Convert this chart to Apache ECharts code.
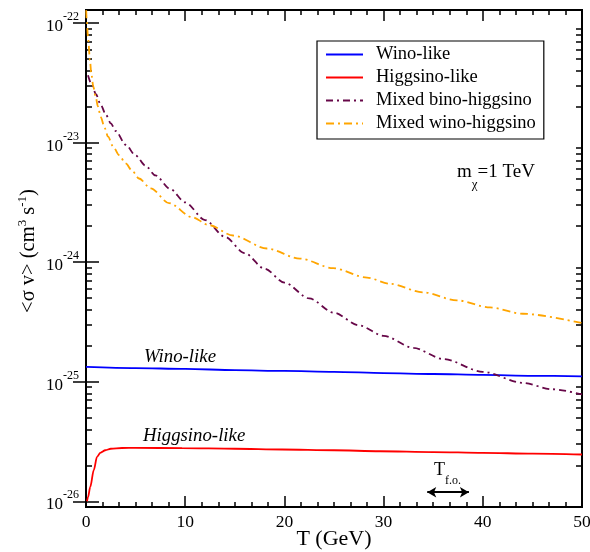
<!DOCTYPE html>
<html>
<head>
<meta charset="utf-8">
<script src="https://cdn.jsdelivr.net/npm/echarts@6/dist/echarts.min.js"></script>
<style>
html, body { margin: 0; padding: 0; background: #fff; }
#chart { width: 590px; height: 552px; }
</style>
</head>
<body>
<div id="chart"></div>
<script>
// <sigma v> in cm^3 s^-1 versus T in GeV
const winoT = [0, 5, 10, 15, 20, 25, 30, 35, 40, 45, 50];
const winoSv = [1.33e-25, 1.30e-25, 1.28e-25, 1.25e-25, 1.23e-25, 1.21e-25, 1.18e-25, 1.16e-25, 1.14e-25, 1.12e-25, 1.11e-25];

const higgsinoT = [0.1, 0.2, 0.43, 0.78, 1.11, 1.44, 1.95, 2.5, 3.63, 5, 9.68, 15, 19.76, 25, 29.64, 35, 40, 45, 50];
const higgsinoSv = [1.0e-26, 1.08e-26, 1.32e-26, 1.82e-26, 2.35e-26, 2.54e-26, 2.67e-26, 2.75e-26, 2.79e-26, 2.80e-26, 2.78e-26, 2.75e-26, 2.71e-26, 2.67e-26, 2.62e-26, 2.58e-26, 2.54e-26, 2.50e-26, 2.46e-26];

const binoHiggsinoT = [0.2, 0.6, 1, 1.5, 2, 2.5, 3, 4, 5, 6, 7, 8.5, 10, 12, 14, 16, 18, 20, 22.5, 25, 27.5, 30, 33, 36, 40, 44, 47, 50];
const binoHiggsinoSv = [3.65e-23, 3.03e-23, 2.54e-23, 2.06e-23, 1.71e-23, 1.45e-23, 1.25e-23, 9.59e-24, 7.80e-24, 6.41e-24, 5.31e-24, 4.08e-24, 3.16e-24, 2.25e-24, 1.63e-24, 1.19e-24, 8.81e-25, 6.75e-25, 4.97e-25, 3.77e-25, 2.96e-25, 2.42e-25, 1.92e-25, 1.55e-25, 1.21e-25, 9.79e-26, 8.65e-26, 7.82e-26];

const winoHiggsinoT = [0.02, 0.07, 0.20, 0.40, 0.53, 0.74, 0.98, 1.21, 1.48, 1.89, 2.22, 2.75, 3.33, 4.00, 4.67, 5.34, 6.52, 8.37, 10.69, 12.40, 14.82, 18.25, 21.57, 24.90, 28.33, 30.65, 33.97, 37.40, 40.73, 44.05, 50];
const winoHiggsinoSv = [1.28e-22, 1.06e-22, 7.67e-23, 4.90e-23, 3.79e-23, 2.93e-23, 2.39e-23, 2.00e-23, 1.64e-23, 1.32e-23, 1.12e-23, 9.23e-24, 7.85e-24, 6.70e-24, 5.79e-24, 5.01e-24, 4.14e-24, 3.12e-24, 2.38e-24, 2.04e-24, 1.67e-24, 1.30e-24, 1.07e-24, 8.91e-25, 7.42e-25, 6.58e-25, 5.59e-25, 4.79e-25, 4.18e-25, 3.70e-25, 3.09e-25];

const seriesNames = ['Wino-like', 'Higgsino-like', 'Mixed bino-higgsino', 'Mixed wino-higgsino'];
const yDecades = [-26, -25, -24, -23, -22];

// freeze-out range marker (T from, T to, at sigma v)
const foFrom = 34.4, foTo = 38.6, foAt = 1.19e-26;

const serif = '"Liberation Serif", "DejaVu Serif", serif';

// plotted on log10 of <sigma v>
const Y_MIN = -26.048, Y_MAX = -21.891;
const toPairs = (t, v) => t.map((x, i) => [x, Math.log10(v[i])]);

let minorExp = [];
for (let n = -27; n <= -22; n++) {
    for (let k = 2; k <= 9; k++) {
        let e = n + Math.log10(k);
        if (e > Y_MIN && e < Y_MAX) minorExp.push(e);
    }
}

const chart = echarts.init(document.getElementById('chart'));

const gridBox = { left: 86, top: 10, right: 8, bottom: 45, outerBoundsMode: 'none', containLabel: false };

function xAx(grid, pos, opts) {
    return Object.assign({
        type: 'value', gridIndex: grid, position: pos, min: 0, max: 50, interval: 10,
        axisLine: { show: false },
        splitLine: { show: false },
        axisTick: { show: true, inside: true, length: 11, lineStyle: { color: '#000', width: 1.5 } },
        minorTick: { show: true, splitNumber: 6, length: 5, lineStyle: { color: '#000', width: 1.5 } },
        axisLabel: { show: false },
    }, opts);
}

function yAx(grid, pos, ticks, len, labels) {
    return {
        type: 'value', gridIndex: grid, position: pos, min: Y_MIN, max: Y_MAX,
        axisLine: { show: false },
        splitLine: { show: false },
        axisTick: { show: true, inside: true, length: len, customValues: ticks, lineStyle: { color: '#000', width: 1.5 } },
        axisLabel: labels ? {
            show: true, customValues: yDecades, margin: 7,
            formatter: v => '{b|10}{s|' + Math.round(v) + '}',
            rich: {
                b: { fontFamily: serif, fontSize: 17, color: '#000', lineHeight: 24, verticalAlign: 'bottom' },
                s: { fontFamily: serif, fontSize: 12, color: '#000', lineHeight: 24, verticalAlign: 'top' },
            },
        } : { show: false },
    };
}

const lineSeries = (name, t, v, color, type) => ({
    name: name, type: 'line', xAxisIndex: 0, yAxisIndex: 0,
    data: toPairs(t, v),
    symbol: 'none', smooth: 0.3, smoothMonotone: 'x', clip: true,
    lineStyle: { color: color, width: 1.8, type: type },
    itemStyle: { color: color },
});

const option = {
    animation: false,
    backgroundColor: '#fff',
    grid: [
        Object.assign({ show: true, borderColor: '#000', borderWidth: 2, backgroundColor: 'transparent' }, gridBox),
        Object.assign({}, gridBox),
    ],
    xAxis: [
        xAx(0, 'bottom', {
            axisLabel: { show: true, margin: 6, fontFamily: serif, fontSize: 17.5, color: '#000' },
            name: 'T (GeV)', nameLocation: 'middle', nameGap: 21, nameMoveOverlap: false,
            nameTextStyle: { fontFamily: serif, fontSize: 22, color: '#000', verticalAlign: 'top' },
        }),
        xAx(0, 'top', {}),
        xAx(1, 'bottom', { show: false }),
    ],
    yAxis: [
        yAx(0, 'left', yDecades, 13, true),
        yAx(0, 'right', yDecades, 13, false),
        yAx(1, 'left', minorExp, 6, false),
        yAx(1, 'right', minorExp, 6, false),
    ],
    legend: {
        orient: 'vertical', left: 317, top: 41,
        data: seriesNames,
        itemWidth: 37, itemHeight: 10, itemGap: 4,
        padding: [4, 8, 6, 8],
        borderColor: '#000', borderWidth: 1.2, borderRadius: 0,
        itemStyle: { opacity: 0 },
        textStyle: { fontFamily: serif, fontSize: 18.5, color: '#000', lineHeight: 18, padding: [0, 0, 0, 8] },
    },
    series: [
        lineSeries(seriesNames[0], winoT, winoSv, '#0000ff', 'solid'),
        Object.assign(lineSeries(seriesNames[1], higgsinoT, higgsinoSv, '#ff0000', 'solid'), {
            markLine: {
                silent: true, symbol: ['arrow', 'arrow'], symbolSize: [8, 9],
                lineStyle: { color: '#000', width: 2, type: 'solid' },
                label: { show: false },
                data: [[{ coord: [foFrom, Math.log10(foAt)] }, { coord: [foTo, Math.log10(foAt)] }]],
            },
        }),
        lineSeries(seriesNames[2], binoHiggsinoT, binoHiggsinoSv, '#670748', [7, 4, 2, 4]),
        lineSeries(seriesNames[3], winoHiggsinoT, winoHiggsinoSv, '#ffa500', [8, 4, 2, 4]),
    ],
    graphic: [
        {
            type: 'text', x: 29, y: 251, rotation: Math.PI / 2,
            style: {
                text: '<σ v> (cm{s|3} s{s|-1})', align: 'center', verticalAlign: 'middle',
                fontFamily: serif, fontSize: 20.5, fill: '#000',
                rich: {
                    s: { fontFamily: serif, fontSize: 13, verticalAlign: 'top', lineHeight: 26 },
                },
            },
        },
        {
            type: 'text', x: 144, y: 357,
            style: { text: 'Wino-like', verticalAlign: 'middle', fontFamily: serif, fontStyle: 'italic', fontSize: 18.8, fill: '#000' },
        },
        {
            type: 'text', x: 143, y: 436,
            style: { text: 'Higgsino-like', verticalAlign: 'middle', fontFamily: serif, fontStyle: 'italic', fontSize: 18.8, fill: '#000' },
        },
        {
            type: 'text', x: 457, y: 177,
            style: {
                text: '{n|m}{d|χ}{n|=1 TeV}', verticalAlign: 'middle',
                rich: {
                    n: { fontFamily: serif, fontSize: 19, fill: '#000', lineHeight: 28, verticalAlign: 'top' },
                    d: { fontFamily: serif, fontSize: 13, fill: '#000', lineHeight: 28, verticalAlign: 'bottom' },
                },
            },
        },
        {
            type: 'text', x: 434, y: 474,
            style: {
                text: '{n|T}{d|f.o.}', verticalAlign: 'middle',
                rich: {
                    n: { fontFamily: serif, fontSize: 18, fill: '#000', lineHeight: 26, verticalAlign: 'top' },
                    d: { fontFamily: serif, fontSize: 12, fill: '#000', lineHeight: 26, verticalAlign: 'bottom' },
                },
            },
        },
    ],
};

chart.setOption(option);
</script>
</body>
</html>
